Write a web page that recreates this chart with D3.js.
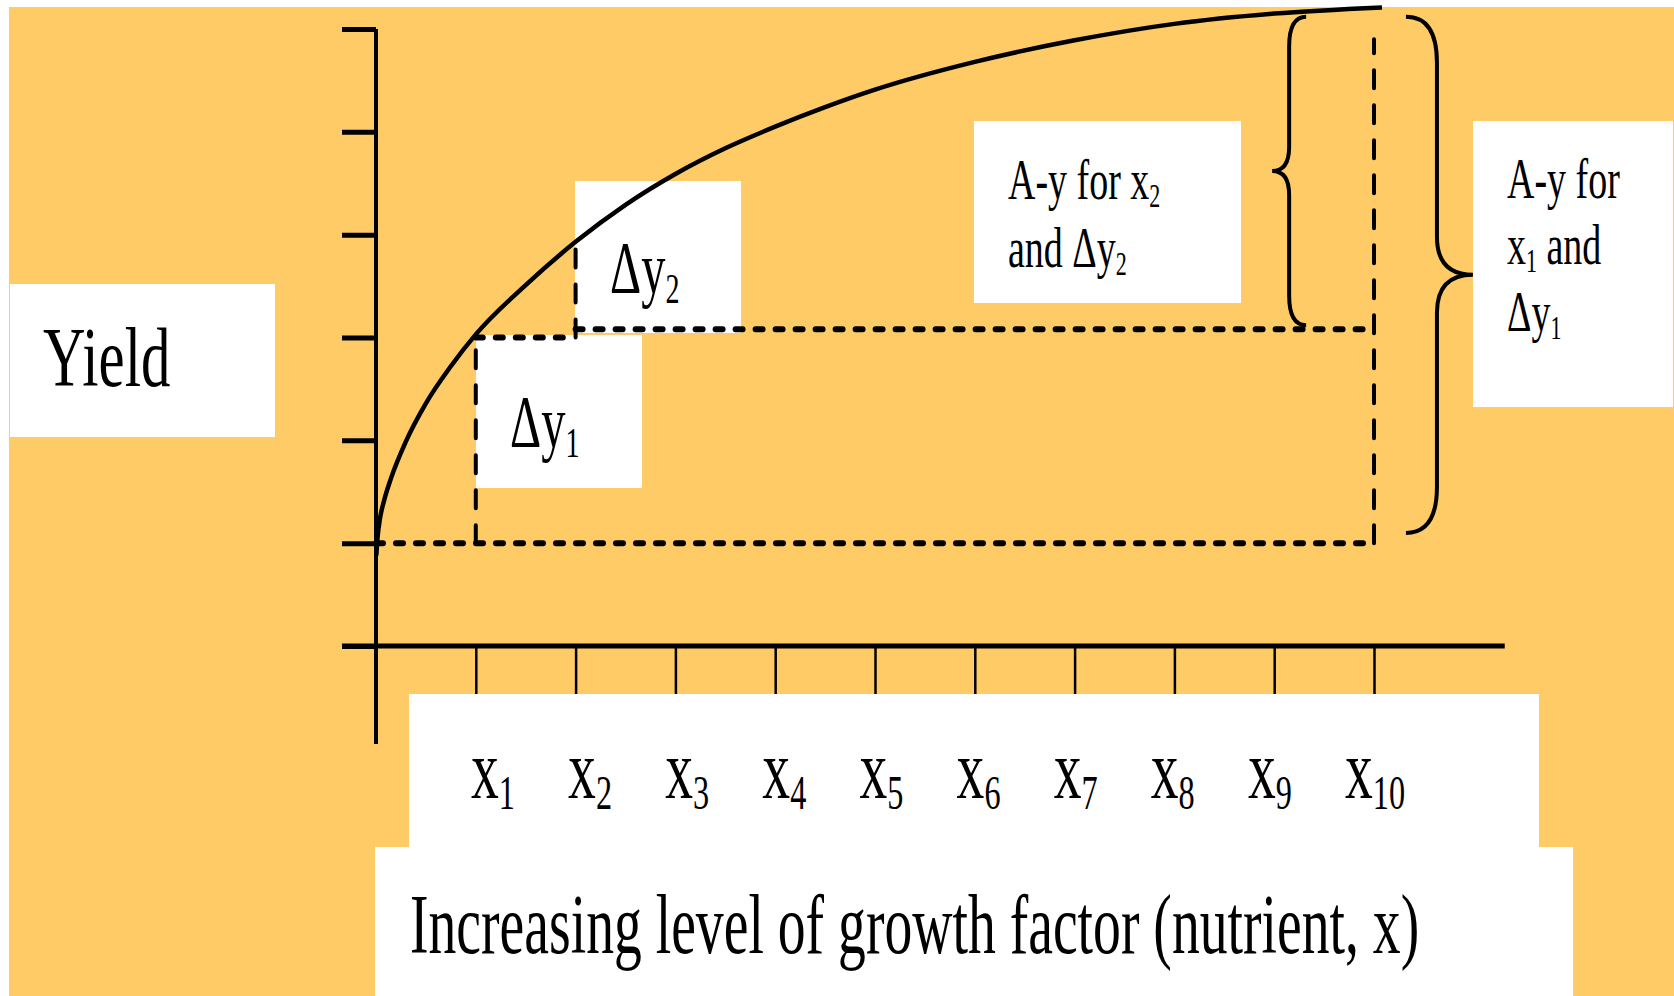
<!DOCTYPE html>
<html>
<head>
<meta charset="utf-8">
<script src="https://cdn.jsdelivr.net/npm/d3@7"></script>
<style>
  html, body { margin: 0; padding: 0; background: #ffffff; }
  svg { display: block; }
  text { font-family: "Liberation Serif", "Times New Roman", serif; fill: #000; }
</style>
</head>
<body>
<script>
// ---------- data ----------
const xLevels = [1, 2, 3, 4, 5, 6, 7, 8, 9, 10];
const xTickSubs = ["1", "2", "3", "4", "5", "6", "7", "8", "9", "10"];
const yLevels = [0, 1, 2, 3, 4, 5, 6];

// yield response curve (x in growth-factor levels, y in yield tick units)
const curveX = [0.003, 0.015, 0.04, 0.08, 0.15, 0.3, 0.5, 0.75, 1.0, 1.5, 2.0, 2.5, 3.0, 3.5, 4.0, 4.5, 5.0, 6.0, 7.0, 8.0, 9.0, 10.08];
const curveY = [0.88, 1.05, 1.24, 1.41, 1.63, 1.99, 2.36, 2.72, 3.03, 3.51, 3.93, 4.29, 4.59, 4.84, 5.05, 5.24, 5.41, 5.68, 5.89, 6.05, 6.15, 6.21];

// guide levels
const baseLevel = 1;       // yield at x0
const levelAtX1 = 3.0;     // yield at x1
const levelAtX2 = 3.08;    // line drawn from x2
const curveAtX2 = 3.92;    // yield at x2
const topAtX10 = 5.9;      // top of the x10 guide
// braces: [bottom level, top level, x position (levels)]
const braceSmall = [3.12, 6.12, 9.32];
const braceBig = [1.10, 6.12, 10.32];

// ---------- layout ----------
const W = 1674, H = 996;
const SX = 0.655; // horizontal text compression
const ORANGE = "#FECB66";

const svg = d3.select("body").append("svg").attr("width", W).attr("height", H);
svg.append("rect").attr("width", W).attr("height", H).attr("fill", "#fff");
svg.append("rect").attr("x", 9).attr("y", 7).attr("width", W - 9).attr("height", H - 7).attr("fill", ORANGE);

const x = d3.scaleLinear().domain([0, 10]).range([376, 1374]);
const y = d3.scaleLinear().domain([0, 6]).range([646, 29]);
const labelX = d3.scaleLinear().domain([1, 10]).range([471, 1345]);

// white boxes
const boxes = [
  [10, 284, 265, 153],     // Yield
  [476, 335, 166, 153],    // Δy1
  [575, 181, 166, 152],    // Δy2
  [974, 121, 267, 182],    // A-y for x2
  [1473, 121, 200, 286],   // A-y for x1
  [409, 694, 1130, 155],   // tick labels
  [375, 847, 1198, 149]    // axis title
];
svg.append("g").selectAll("rect").data(boxes).join("rect")
  .attr("x", d => d[0]).attr("y", d => d[1]).attr("width", d => d[2]).attr("height", d => d[3])
  .attr("fill", "#fff");

// guide lines
const guides = svg.append("g").attr("fill", "none").attr("stroke", "#000").attr("stroke-linecap", "round");
function hDotted(x0, x1, lv) {
  guides.append("line").attr("x1", x(x0)).attr("x2", x(x1)).attr("y1", y(lv)).attr("y2", y(lv))
    .attr("stroke-width", 6).attr("stroke-dasharray", "7,13");
}
function vDashed(xv, l0, l1) {
  guides.append("line").attr("x1", x(xv)).attr("x2", x(xv)).attr("y1", y(l0)).attr("y2", y(l1))
    .attr("stroke-width", 4).attr("stroke-dasharray", "18,17");
}
hDotted(0, 10, baseLevel);
hDotted(1, 2, levelAtX1);
hDotted(2, 9.9, levelAtX2);
vDashed(1, baseLevel, levelAtX1);
vDashed(2, levelAtX1, curveAtX2);
vDashed(10, baseLevel, topAtX10);

// axes
const yAx = svg.append("g").attr("transform", `translate(${x(0)},0)`)
  .call(d3.axisLeft(y).tickValues(yLevels).tickSize(34).tickFormat(""));
yAx.select(".domain").remove();
yAx.selectAll(".tick line").attr("stroke", "#000").attr("stroke-width", 5);

const xAx = svg.append("g").attr("transform", `translate(0,${y(0)})`)
  .call(d3.axisBottom(x).tickValues(xLevels).tickSize(48).tickFormat(""));
xAx.select(".domain").remove();
xAx.selectAll(".tick line").attr("stroke", "#000").attr("stroke-width", 2.5);

svg.append("line").attr("x1", x(0)).attr("x2", x(0)).attr("y1", y(6)).attr("y2", y(0) + 98)
  .attr("stroke", "#000").attr("stroke-width", 4);
svg.append("line").attr("x1", x(0) - 34).attr("x2", x(11.31)).attr("y1", y(0)).attr("y2", y(0))
  .attr("stroke", "#000").attr("stroke-width", 5);

// response curve
const pts = curveX.map((v, i) => [v, curveY[i]]);
svg.append("path").datum(pts)
  .attr("d", d3.line().x(d => x(d[0])).y(d => y(d[1])).curve(d3.curveMonotoneX))
  .attr("fill", "none").attr("stroke", "#000").attr("stroke-width", 4.5);

// braces
function bracePath(xEnd, xMid, xTip, yTop, yBot, ry, rt) {
  const yc = (yTop + yBot) / 2;
  return `M${xEnd},${yTop} Q${xMid},${yTop} ${xMid},${yTop + ry} L${xMid},${yc - rt} ` +
         `Q${xMid},${yc} ${xTip},${yc} Q${xMid},${yc} ${xMid},${yc + rt} ` +
         `L${xMid},${yBot - ry} Q${xMid},${yBot} ${xEnd},${yBot}`;
}
const sE = x(braceSmall[2]);
svg.append("path").attr("d", bracePath(sE, sE - 17, sE - 34, y(braceSmall[1]), y(braceSmall[0]), 30, 24))
  .attr("fill", "none").attr("stroke", "#000").attr("stroke-width", 4);
const bE = x(braceBig[2]);
svg.append("path").attr("d", bracePath(bE, bE + 31, bE + 67, y(braceBig[1]), y(braceBig[0]), 46, 38))
  .attr("fill", "none").attr("stroke", "#000").attr("stroke-width", 4);

// text helper: parts = [[text, isSub], ...]
function label(px, py, size, parts, sx) {
  const g = svg.append("g").attr("transform", `translate(${px},${py}) scale(${sx || SX},1)`);
  const t = g.append("text").attr("font-size", size);
  let prevSub = false;
  parts.forEach(([s, sub]) => {
    const ts = t.append("tspan").text(s);
    if (sub) { ts.attr("font-size", size * 0.58).attr("dy", size * 0.13); }
    else if (prevSub) { ts.attr("dy", -size * 0.13); }
    prevSub = sub;
  });
  return t;
}

label(43, 386, 84, [["Yield", false]], 0.7);
label(510, 447, 74, [["\u0394y", false], ["1", true]]);
label(610, 293, 74, [["\u0394y", false], ["2", true]]);
label(1008, 199, 58, [["A-y for x", false], ["2", true]]);
label(1008, 267, 58, [["and \u0394y", false], ["2", true]]);
label(1507, 198, 58, [["A-y for", false]]);
label(1507, 264, 58, [["x", false], ["1", true], [" and", false]]);
label(1507, 331, 58, [["\u0394y", false], ["1", true]]);

xLevels.forEach((lv, i) => {
  label(labelX(lv), 798, 85, [["x", false], [xTickSubs[i], true]]);
});

label(410, 953, 85, [["Increasing level of growth factor (nutrient, x)", false]]);
</script>
</body>
</html>
